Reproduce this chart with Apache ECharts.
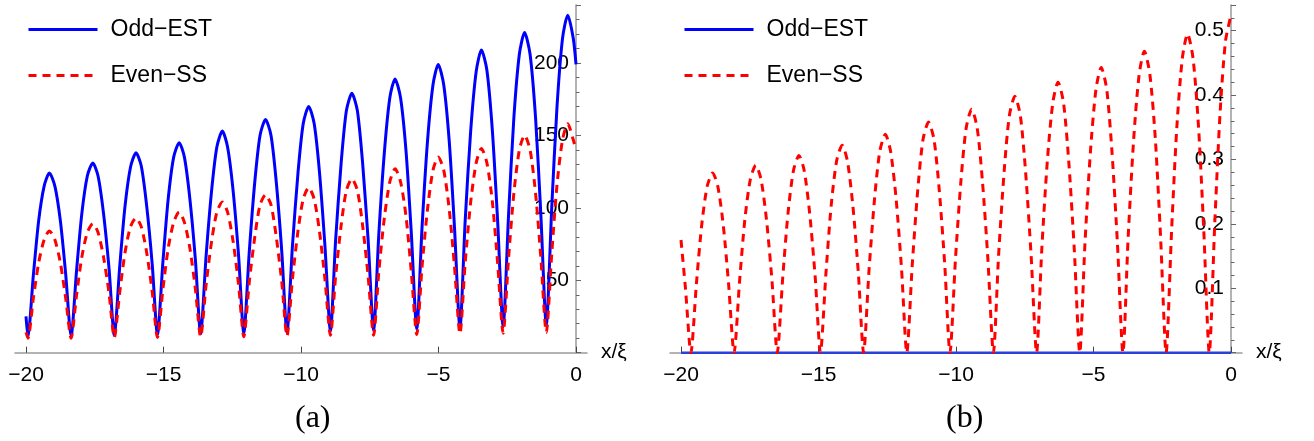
<!DOCTYPE html>
<html lang="en">
<head>
    <meta charset="UTF-8">
    <script src="https://cdn.jsdelivr.net/npm/echarts/dist/echarts.min.js"></script>
    <style>
        body, html {
            margin: 0;
            padding: 0;
            width: 100%;
            height: 100%;
            background: #fff;
        }
        #chart {
            width: 1314px;
            height: 441px;
        }
    </style>
</head>
<body>
    <div id="chart"></div>
    <script>
        // panel (a): sample positions and values
        const xA = [-20,
            -19.93, -19.73, -19.54, -19.34, -19.15, -18.95, -18.75, -18.56,
            -18.36, -18.16, -17.97, -17.77, -17.57, -17.38, -17.18, -16.98,
            -16.79, -16.59, -16.40, -16.20, -16.00, -15.81, -15.61, -15.41,
            -15.22, -15.02, -14.83, -14.63, -14.43, -14.24, -14.04, -13.84,
            -13.65, -13.45, -13.25, -13.06, -12.86, -12.67, -12.47, -12.27,
            -12.08, -11.88, -11.68, -11.49, -11.29, -11.09, -10.90, -10.70,
            -10.51, -10.31, -10.11, -9.92, -9.72, -9.52, -9.33, -9.13,
            -8.93, -8.74, -8.54, -8.35, -8.15, -7.95, -7.76, -7.56,
            -7.36, -7.17, -6.97, -6.77, -6.58, -6.38, -6.18, -5.99,
            -5.79, -5.60, -5.40, -5.20, -5.01, -4.81, -4.61, -4.42,
            -4.22, -4.03, -3.83, -3.63, -3.44, -3.24, -3.04, -2.85,
            -2.65, -2.45, -2.26, -2.06, -1.87, -1.67, -1.47, -1.28,
            -1.08, -0.88, -0.69, -0.49, -0.30, -0.10, 0];
        const oddA = [25,
            11, 54, 91, 115, 124, 115, 91, 55,
            11.5, 57, 96, 122, 131, 122, 96, 58,
            12, 60, 101, 128, 138, 129, 101, 61,
            12.5, 63, 106, 135, 145, 135, 106, 64,
            13, 67, 112, 142, 153, 142, 112, 67,
            13.5, 70, 118, 150, 161, 150, 118, 70,
            14, 74, 124, 158, 170, 158, 125, 74,
            15, 78, 131, 167, 179, 167, 131, 78,
            15.5, 82, 138, 176, 189, 176, 139, 83,
            16.5, 86, 146, 185, 199, 185, 146, 87,
            17, 91, 153, 194, 209, 195, 153, 91,
            18, 96, 162, 206, 221, 206, 162, 96,
            19, 101, 170, 217, 233, 217, 199];
        const evenA = [14,
            10, 38, 62, 78, 84, 78, 62, 38,
            10, 40, 66, 83, 89, 83, 66, 41,
            10.5, 42, 69, 87, 93, 87, 69, 42,
            10.5, 44, 72, 90, 97, 90, 72, 44,
            11, 47, 77, 97, 104, 97, 77, 47,
            11, 49, 80, 102, 109, 102, 80, 49,
            11.5, 51, 84, 106, 114, 106, 84, 51,
            12, 53, 88, 112, 120, 112, 88, 53,
            12, 56, 93, 118, 127, 118, 94, 56,
            12.5, 59, 99, 126, 135, 126, 99, 60,
            13, 62, 104, 131, 141, 131, 104, 62,
            13.5, 66, 110, 140, 150, 140, 110, 66,
            14, 69, 116, 147, 158, 147, 140];

        // panel (b)
        const xB = [-20, -19.84,
            -19.64, -19.44, -19.25, -19.05, -18.85, -18.66, -18.46, -18.27,
            -18.07, -17.87, -17.68, -17.48, -17.28, -17.09, -16.89, -16.69,
            -16.50, -16.30, -16.11, -15.91, -15.71, -15.52, -15.32, -15.12,
            -14.93, -14.73, -14.54, -14.34, -14.14, -13.95, -13.75, -13.55,
            -13.36, -13.16, -12.96, -12.77, -12.57, -12.38, -12.18, -11.98,
            -11.79, -11.59, -11.39, -11.20, -11.00, -10.80, -10.61, -10.41,
            -10.22, -10.02, -9.82, -9.63, -9.43, -9.23, -9.04, -8.84,
            -8.64, -8.45, -8.25, -8.06, -7.86, -7.66, -7.47, -7.27,
            -7.07, -6.88, -6.68, -6.48, -6.29, -6.09, -5.90, -5.70,
            -5.50, -5.31, -5.11, -4.91, -4.72, -4.52, -4.33, -4.13,
            -3.93, -3.74, -3.54, -3.34, -3.15, -2.95, -2.75, -2.56,
            -2.36, -2.16, -1.97, -1.77, -1.58, -1.38, -1.18, -0.99,
            -0.79, -0.59, -0.40, -0.20, 0];
        const evenB = [0.175, 0.101,
            0, 0.107, 0.197, 0.258, 0.279, 0.258, 0.197, 0.107,
            0, 0.111, 0.206, 0.269, 0.291, 0.269, 0.206, 0.111,
            0, 0.117, 0.216, 0.283, 0.306, 0.283, 0.216, 0.117,
            0, 0.123, 0.228, 0.298, 0.322, 0.298, 0.228, 0.123,
            0, 0.130, 0.240, 0.313, 0.339, 0.313, 0.240, 0.130,
            0, 0.137, 0.253, 0.331, 0.358, 0.331, 0.253, 0.137,
            0, 0.145, 0.267, 0.349, 0.378, 0.349, 0.267, 0.145,
            0, 0.152, 0.281, 0.368, 0.398, 0.368, 0.281, 0.152,
            0, 0.161, 0.297, 0.388, 0.420, 0.388, 0.297, 0.161,
            0, 0.170, 0.313, 0.409, 0.443, 0.409, 0.313, 0.170,
            0, 0.179, 0.331, 0.432, 0.468, 0.432, 0.331, 0.179,
            0, 0.190, 0.350, 0.457, 0.495, 0.457, 0.350, 0.190,
            0, 0.201, 0.370, 0.484, 0.524];
        const xBOdd = [-20, 0];
        const oddB = [0, 0];

        const xTicks = [-20, -15, -10, -5, 0];
        const names = ['Odd\u2212EST', 'Even\u2212SS'];

        const FONT = 'Liberation Sans';
        const pairs = (xs, ys) => xs.map((x, i) => [x, ys[i]]);

        // x runs to 0.4, so x = 0 sits 0.4 * 27.5 = 11px left of the grid's right edge
        const Y_SHIFT = -11;

        function xAxisFor(gridIndex) {
            return {
                type: 'value',
                gridIndex: gridIndex,
                min: -20.4,
                max: 0.4,
                name: 'x/\u03be',
                nameLocation: 'end',
                nameGap: 14,
                nameTextStyle: { fontFamily: FONT, fontSize: 21, color: '#000' },
                axisLine: { onZero: false, lineStyle: { color: '#9a9a9a', width: 1.5 } },
                axisTick: { customValues: xTicks, inside: true, length: 6, lineStyle: { color: '#444' } },
                axisLabel: {
                    customValues: xTicks,
                    margin: 12,
                    fontFamily: FONT, fontSize: 21, color: '#000',
                    formatter: v => String(v).replace('-', '\u2212')
                },
                splitLine: { show: false }
            };
        }

        function yAxisFor(gridIndex, max, interval) {
            return {
                type: 'value',
                gridIndex: gridIndex,
                position: 'right',
                offset: Y_SHIFT,
                min: 0,
                max: max,
                interval: interval,
                axisLine: { onZero: false, lineStyle: { color: '#9a9a9a', width: 1.5 } },
                axisTick: { inside: false, length: 5, lineStyle: { color: '#666' } },
                minorTick: { show: true, splitNumber: 5, length: 3.5, lineStyle: { color: '#666' } },
                axisLabel: {
                    inside: true,
                    showMinLabel: false,
                    showMaxLabel: false,
                    margin: 7,
                    fontFamily: FONT, fontSize: 21, color: '#000'
                },
                splitLine: { show: false }
            };
        }

        function legendFor(left) {
            return {
                data: names,
                orient: 'vertical',
                left: left,
                top: 13,
                itemWidth: 69,
                itemHeight: 14,
                itemGap: 23,
                itemStyle: { opacity: 0 },
                lineStyle: { width: 3 },
                textStyle: { fontFamily: FONT, fontSize: 23, color: '#000', lineHeight: 23, padding: [0, 0, 0, 8] }
            };
        }

        const blueStyle = { color: '#0000ff', width: 3 };
        const redStyle = { color: '#ff0000', width: 3, type: [8, 6] };

        const chart = echarts.init(document.getElementById('chart'));
        chart.setOption({
            animation: false,
            grid: [
                { left: 15, top: 5, width: 572, height: 347.7 },
                { left: 670, top: 4.9, width: 572, height: 347.8 }
            ],
            legend: [legendFor(22), legendFor(678)],
            xAxis: [xAxisFor(0), xAxisFor(1)],
            yAxis: [yAxisFor(0, 240, 50), yAxisFor(1, 0.54, 0.1)],
            graphic: [
                { type: 'text', left: 295, top: 403, style: { text: '(a)', font: '32px "Liberation Serif"', fill: '#000' } },
                { type: 'text', left: 946, top: 403, style: { text: '(b)', font: '32px "Liberation Serif"', fill: '#000' } }
            ],
            series: [
                {
                    name: names[0], type: 'line', xAxisIndex: 0, yAxisIndex: 0,
                    data: pairs(xA, oddA), showSymbol: false, symbol: 'none', smooth: 0.25,
                    lineStyle: blueStyle, itemStyle: { color: '#0000ff' }
                },
                {
                    name: names[1], type: 'line', xAxisIndex: 0, yAxisIndex: 0,
                    data: pairs(xA, evenA), showSymbol: false, symbol: 'none', smooth: 0.25,
                    lineStyle: redStyle, itemStyle: { color: '#ff0000' }
                },
                {
                    name: names[0], type: 'line', xAxisIndex: 1, yAxisIndex: 1,
                    data: pairs(xBOdd, oddB), showSymbol: false, symbol: 'none',
                    lineStyle: { color: '#2a40d8', width: 2.5 }, itemStyle: { color: '#0000ff' }
                },
                {
                    name: names[1], type: 'line', xAxisIndex: 1, yAxisIndex: 1,
                    data: pairs(xB, evenB), showSymbol: false, symbol: 'none', smooth: 0.25,
                    lineStyle: redStyle, itemStyle: { color: '#ff0000' }
                }
            ]
        });
    </script>
</body>
</html>
